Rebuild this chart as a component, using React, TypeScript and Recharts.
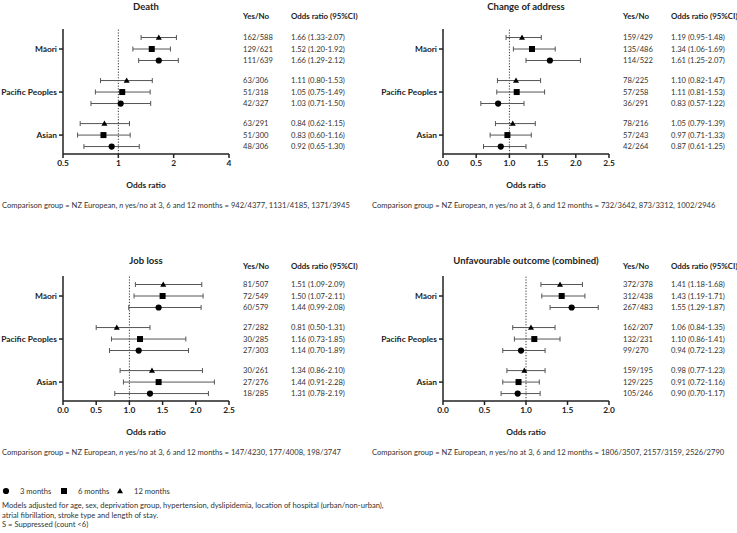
import React from "react";
import { ScatterChart, Scatter, XAxis, YAxis, ErrorBar, ReferenceLine } from "recharts";

type Row = { group: string; months: number; or: number; lo: number; hi: number; yn: string };

const groups = ["Māori", "Pacific Peoples", "Asian"];
const periods = [3, 6, 12];

const deathRows: Row[] = [
  { group: "Māori", months: 12, or: 1.66, lo: 1.33, hi: 2.07, yn: "162/588" },
  { group: "Māori", months: 6, or: 1.52, lo: 1.2, hi: 1.92, yn: "129/621" },
  { group: "Māori", months: 3, or: 1.66, lo: 1.29, hi: 2.12, yn: "111/639" },
  { group: "Pacific Peoples", months: 12, or: 1.11, lo: 0.8, hi: 1.53, yn: "63/306" },
  { group: "Pacific Peoples", months: 6, or: 1.05, lo: 0.75, hi: 1.49, yn: "51/318" },
  { group: "Pacific Peoples", months: 3, or: 1.03, lo: 0.71, hi: 1.5, yn: "42/327" },
  { group: "Asian", months: 12, or: 0.84, lo: 0.62, hi: 1.15, yn: "63/291" },
  { group: "Asian", months: 6, or: 0.83, lo: 0.6, hi: 1.16, yn: "51/300" },
  { group: "Asian", months: 3, or: 0.92, lo: 0.65, hi: 1.3, yn: "48/306" },
];

const addressRows: Row[] = [
  { group: "Māori", months: 12, or: 1.19, lo: 0.95, hi: 1.48, yn: "159/429" },
  { group: "Māori", months: 6, or: 1.34, lo: 1.06, hi: 1.69, yn: "135/486" },
  { group: "Māori", months: 3, or: 1.61, lo: 1.25, hi: 2.07, yn: "114/522" },
  { group: "Pacific Peoples", months: 12, or: 1.1, lo: 0.82, hi: 1.47, yn: "78/225" },
  { group: "Pacific Peoples", months: 6, or: 1.11, lo: 0.81, hi: 1.53, yn: "57/258" },
  { group: "Pacific Peoples", months: 3, or: 0.83, lo: 0.57, hi: 1.22, yn: "36/291" },
  { group: "Asian", months: 12, or: 1.05, lo: 0.79, hi: 1.39, yn: "78/216" },
  { group: "Asian", months: 6, or: 0.97, lo: 0.71, hi: 1.33, yn: "57/243" },
  { group: "Asian", months: 3, or: 0.87, lo: 0.61, hi: 1.25, yn: "42/264" },
];

const jobRows: Row[] = [
  { group: "Māori", months: 12, or: 1.51, lo: 1.09, hi: 2.09, yn: "81/507" },
  { group: "Māori", months: 6, or: 1.5, lo: 1.07, hi: 2.11, yn: "72/549" },
  { group: "Māori", months: 3, or: 1.44, lo: 0.99, hi: 2.08, yn: "60/579" },
  { group: "Pacific Peoples", months: 12, or: 0.81, lo: 0.5, hi: 1.31, yn: "27/282" },
  { group: "Pacific Peoples", months: 6, or: 1.16, lo: 0.73, hi: 1.85, yn: "30/285" },
  { group: "Pacific Peoples", months: 3, or: 1.14, lo: 0.7, hi: 1.89, yn: "27/303" },
  { group: "Asian", months: 12, or: 1.34, lo: 0.86, hi: 2.1, yn: "30/261" },
  { group: "Asian", months: 6, or: 1.44, lo: 0.91, hi: 2.28, yn: "27/276" },
  { group: "Asian", months: 3, or: 1.31, lo: 0.78, hi: 2.19, yn: "18/285" },
];

const combinedRows: Row[] = [
  { group: "Māori", months: 12, or: 1.41, lo: 1.18, hi: 1.68, yn: "372/378" },
  { group: "Māori", months: 6, or: 1.43, lo: 1.19, hi: 1.71, yn: "312/438" },
  { group: "Māori", months: 3, or: 1.55, lo: 1.29, hi: 1.87, yn: "267/483" },
  { group: "Pacific Peoples", months: 12, or: 1.06, lo: 0.84, hi: 1.35, yn: "162/207" },
  { group: "Pacific Peoples", months: 6, or: 1.1, lo: 0.86, hi: 1.41, yn: "132/231" },
  { group: "Pacific Peoples", months: 3, or: 0.94, lo: 0.72, hi: 1.23, yn: "99/270" },
  { group: "Asian", months: 12, or: 0.98, lo: 0.77, hi: 1.23, yn: "159/195" },
  { group: "Asian", months: 6, or: 0.91, lo: 0.72, hi: 1.16, yn: "129/225" },
  { group: "Asian", months: 3, or: 0.9, lo: 0.7, hi: 1.17, yn: "105/246" },
];

const logTicks = [0.5, 1, 2, 4];
const ticks25 = [0, 0.5, 1, 1.5, 2, 2.5];
const ticks20 = [0, 0.5, 1, 1.5, 2];

const comparisonDeath = "942/4377, 1131/4185, 1371/3945";
const comparisonAddress = "732/3642, 873/3312, 1002/2946";
const comparisonJob = "147/4230, 177/4008, 198/3747";
const comparisonCombined = "1806/3507, 2157/3159, 2526/2790";

const FONT = "Lato, 'Open Sans', sans-serif";
const rowOffset: Record<number, number> = { 12: -0.267, 6: 0, 3: 0.267 };
const PLOT_W = 166;

function Mark({ months, cx, cy }: { months: number; cx: number; cy: number }) {
  if (months === 3) return <circle cx={cx} cy={cy} r={3.1} fill="#000" />;
  if (months === 6) return <rect x={cx - 3} y={cy - 3} width={6} height={6} fill="#000" />;
  return <path d={`M${cx},${cy - 3}L${cx + 3},${cy + 2.2}L${cx - 3},${cy + 2.2}Z`} fill="#000" />;
}

function makeShape(months: number, colA: number, colB: number) {
  return (props: any) => {
    const { cx, cy, payload } = props;
    const p = payload as Row;
    const ci = `${p.or.toFixed(2)} (${p.lo.toFixed(2)}-${p.hi.toFixed(2)})`;
    return (
      <g>
        <Mark months={months} cx={cx} cy={cy} />
        <text x={colA} y={cy} dy="0.35em" fontSize={7.6} fill="#333" fontFamily={FONT}>
          {p.yn}
        </text>
        <text x={colB} y={cy} dy="0.35em" fontSize={7.6} fill="#333" fontFamily={FONT}>
          {ci}
        </text>
      </g>
    );
  };
}

const GroupTick = (props: any) => {
  const { x, y, payload } = props;
  return (
    <text x={x} y={y} dy="0.35em" textAnchor="end" fontSize={8.4} fontWeight={700} fill="#222" fontFamily={FONT}>
      {groups[payload.value - 1]}
    </text>
  );
};

function Panel({
  rows,
  left,
  top,
  plotLeft,
  ticks,
  log,
  title,
  comparison,
}: {
  rows: Row[];
  left: number;
  top: number;
  plotLeft: number;
  ticks: number[];
  log?: boolean;
  title: string;
  comparison: string;
}) {
  const width = 360;
  const height = 200;
  const colA = plotLeft + PLOT_W + 14;
  const colB = plotLeft + PLOT_W + 62;
  const axisStyle = { stroke: "#222", strokeWidth: 1.5 };
  const headTop = top === 0 ? 11 : 14;
  const head = { position: "absolute" as const, top: headTop, fontWeight: 700, fontSize: 7.9, color: "#222", whiteSpace: "nowrap" as const };
  return (
    <div style={{ position: "absolute", left, top, width: 367, height: 220 }}>
      <div
        style={{
          position: "absolute",
          left: plotLeft - 40,
          width: PLOT_W + 80,
          top: top === 0 ? 1 : 8,
          textAlign: "center",
          fontWeight: 700,
          fontSize: 9.5,
          color: "#222",
          whiteSpace: "nowrap",
        }}
      >
        {title}
      </div>
      <div style={{ ...head, left: colA }}>Yes/No</div>
      <div style={{ ...head, left: colB }}>Odds ratio (95%CI)</div>
      <ScatterChart width={width} height={height} margin={{ top: 29, right: width - plotLeft - PLOT_W, bottom: 12, left: 0 }}>
        <XAxis
          type="number"
          dataKey="or"
          scale={log ? "log" : "linear"}
          domain={[ticks[0], ticks[ticks.length - 1]]}
          ticks={ticks}
          interval={0}
          height={34}
          axisLine={axisStyle}
          tickLine={axisStyle}
          tickSize={4}
          tickMargin={2}
          tick={{ fontSize: 8.4, fontWeight: 700, fill: "#222", fontFamily: FONT }}
          tickFormatter={(v: number) => (log ? String(v) : v.toFixed(1))}
          label={{ value: "Odds ratio", position: "insideBottom", offset: 0, fontSize: 8.4, fontWeight: 700, fill: "#222", fontFamily: FONT }}
        />
        <YAxis
          type="number"
          dataKey="y"
          domain={[0.535, 3.44]}
          reversed
          ticks={[1, 2, 3]}
          interval={0}
          width={plotLeft}
          axisLine={axisStyle}
          tickLine={axisStyle}
          tickSize={4}
          tickMargin={2}
          tick={GroupTick}
        />
        <ReferenceLine x={1} stroke="#333" strokeDasharray="1.2 1.6" strokeWidth={1} />
        {periods.map((m) => (
          <Scatter
            key={m}
            isAnimationActive={false}
            data={rows
              .filter((r) => r.months === m)
              .map((r) => ({ ...r, y: groups.indexOf(r.group) + 1 + rowOffset[m], err: [r.or - r.lo, r.hi - r.or] }))}
            shape={makeShape(m, colA, colB)}
          >
            <ErrorBar dataKey="err" direction="x" width={2.5} stroke="#555" strokeWidth={1} isAnimationActive={false} />
          </Scatter>
        ))}
      </ScatterChart>
      <div style={{ position: "absolute", left: 2, top: 200, fontSize: 7.6, color: "#333", whiteSpace: "nowrap" }}>
        Comparison group = NZ European, <i>n</i> yes/no at 3, 6 and 12 months = {comparison}
      </div>
    </div>
  );
}

function Legend() {
  const items = [
    { m: 3, x: 6, label: "3 months" },
    { m: 6, x: 64, label: "6 months" },
    { m: 12, x: 120, label: "12 months" },
  ];
  return (
    <svg width={200} height={12} style={{ position: "absolute", left: 0, top: 485 }}>
      {items.map((it) => (
        <g key={it.m}>
          <Mark months={it.m} cx={it.x} cy={6} />
          <text x={it.x + 14} y={6} dy="0.35em" fontSize={7.6} fill="#333" fontFamily={FONT}>
            {it.label}
          </text>
        </g>
      ))}
    </svg>
  );
}

export default function App() {
  return (
    <div style={{ position: "relative", width: 737, height: 533, background: "#fff", fontFamily: FONT, overflow: "hidden" }}>
      <style>{`body{margin:0}`}</style>
      <Panel rows={deathRows} left={0} top={0} plotLeft={63} ticks={logTicks} log title="Death" comparison={comparisonDeath} />
      <Panel rows={addressRows} left={370} top={0} plotLeft={73} ticks={ticks25} title="Change of address" comparison={comparisonAddress} />
      <Panel rows={jobRows} left={0} top={247} plotLeft={63} ticks={ticks25} title="Job loss" comparison={comparisonJob} />
      <Panel rows={combinedRows} left={370} top={247} plotLeft={73} ticks={ticks20} title="Unfavourable outcome (combined)" comparison={comparisonCombined} />
      <Legend />
      <div style={{ position: "absolute", left: 2, top: 501, fontSize: 7.6, color: "#333", lineHeight: "9.5px", whiteSpace: "nowrap" }}>
        Models adjusted for age, sex, deprivation group, hypertension, dyslipidemia, location of hospital (urban/non-urban),
        <br />
        atrial fibrillation, stroke type and length of stay.
        <br />S = Suppressed (count &lt;6)
      </div>
    </div>
  );
}
